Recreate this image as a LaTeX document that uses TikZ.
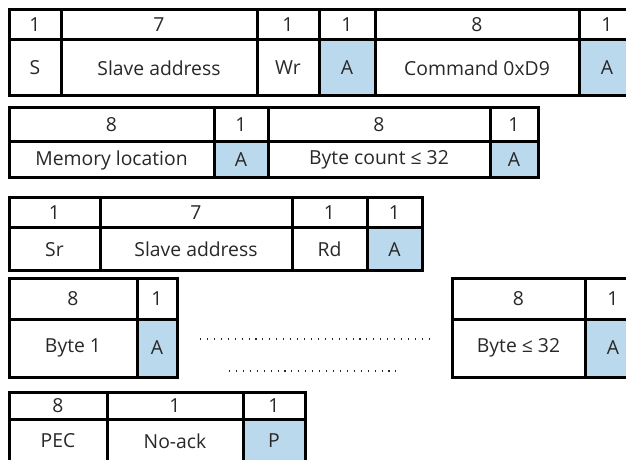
\documentclass[tikz,border=0pt]{standalone}
\usepackage{fontspec}
\setmainfont{Open Sans}
\definecolor{ackblue}{RGB}{187,217,236}
\definecolor{txtgray}{RGB}{40,40,40}

% one field of a frame: [style]{name}{x left}{x right}{y top}{y bottom}{text}
\newcommand{\fld}[7][]{%
  \node[cell,#1,minimum width={(#4-#3)*0.75pt},minimum height={(#6-#5)*0.75pt}]
    (#2) at ({(#3+#4)/2},{(#5+#6)/2}) {#7};}

\begin{document}
\begin{tikzpicture}[x=0.75pt,y=-0.75pt,
  cell/.style={draw,line width=2.25pt,inner sep=0pt,text=txtgray,
    font=\fontsize{14.5}{17}\selectfont},
  ack/.style={fill=ackblue},
  gap/.style={line width=1pt,txtgray,dash pattern=on 0.8pt off 4.4pt}]
  \useasboundingbox (0,0) rectangle (626,460);
  \clip (0,0) rectangle (626,460);

  % write: start, address, command
  \fld{hs}{9}{61}{10}{40}{1}
  \fld{ha}{61}{257}{10}{40}{7}
  \fld{hw}{257}{319}{10}{40}{1}
  \fld{hk1}{319}{375}{10}{40}{1}
  \fld{hc}{375}{579}{10}{40}{8}
  \fld{hk2}{579}{635}{10}{40}{1}
  \fld{s}{9}{61}{40}{96}{S}
  \fld{addrw}{61}{257}{40}{96}{Slave address}
  \fld{wr}{257}{319}{40}{96}{Wr}
  \fld[ack]{ack1}{319}{375}{40}{96}{A}
  \fld{cmd}{375}{579}{40}{96}{Command 0xD9}
  \fld[ack]{ack2}{579}{635}{40}{96}{A}

  % memory location and byte count
  \fld{hm}{9}{214}{108}{142}{8}
  \fld{hk3}{214}{268}{108}{142}{1}
  \fld{hb}{268}{490}{108}{142}{8}
  \fld{hk4}{490}{538}{108}{142}{1}
  \fld{mem}{9}{214}{142}{178}{Memory location}
  \fld[ack]{ack3}{214}{268}{142}{178}{A}
  \fld{cnt}{268}{490}{142}{178}{Byte count ≤ 32}
  \fld[ack]{ack4}{490}{538}{142}{178}{A}

  % repeated start, read
  \fld{hsr}{9}{100}{198}{228}{1}
  \fld{har}{100}{292}{198}{228}{7}
  \fld{hrd}{292}{367}{198}{228}{1}
  \fld{hk5}{367}{422}{198}{228}{1}
  \fld{sr}{9}{100}{228}{271}{Sr}
  \fld{addrr}{100}{292}{228}{271}{Slave address}
  \fld{rd}{292}{367}{228}{271}{Rd}
  \fld[ack]{ack5}{367}{422}{228}{271}{A}

  % data bytes
  \fld{hb1}{9}{137}{279}{319}{8}
  \fld{hk6}{137}{177}{279}{319}{1}
  \fld{byte1}{9}{137}{319}{377}{Byte 1}
  \fld[ack]{ack6}{137}{177}{319}{377}{A}
  \fld{hbn}{452}{585}{279}{319}{8}
  \fld{hk7}{585}{641}{279}{319}{1}
  \fld{byten}{452}{585}{319}{377}{Byte ≤ 32}
  \fld[ack]{ack7}{585}{641}{319}{377}{A}

  \coordinate (g1a) at (200,339);
  \coordinate (g1b) at (430,339);
  \coordinate (g2a) at (229,371);
  \coordinate (g2b) at (402,371);
  \draw[gap] (g1a) -- (g1b);
  \draw[gap] (g2a) -- (g2b);

  % checksum, stop
  \fld{hpec}{9}{107}{392}{419}{8}
  \fld{hna}{107}{243}{392}{419}{1}
  \fld{hp}{243}{305}{392}{419}{1}
  \fld{pec}{9}{107}{419}{463}{PEC}
  \fld{nack}{107}{243}{419}{463}{No-ack}
  \fld[ack]{stop}{243}{305}{419}{463}{P}
\end{tikzpicture}
\end{document}
